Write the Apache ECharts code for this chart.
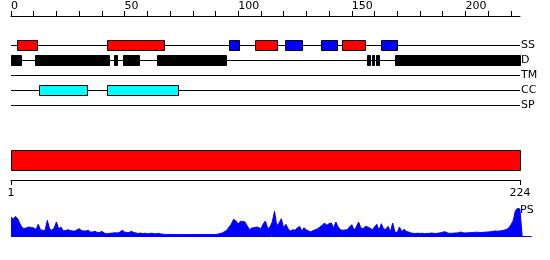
<!DOCTYPE html>
<html>
<head>
<meta charset="utf-8">
<script src="https://cdn.jsdelivr.net/npm/echarts@6/dist/echarts.min.js"></script>
<style>html,body{margin:0;padding:0;background:#fff}#c{width:550px;height:260px}</style>
</head>
<body>
<div id="c"></div>
<script>
// ---- data ----
const seqLength = 224;
const topTickValues = [0,10,20,30,40,50,60,70,80,90,100,110,120,130,140,150,160,170,180,190,200,210,220];
const topLabelValues = [0,50,100,150,200];
const rangeLabels = [1,224];
const tracks = ['SS','D','TM','CC','SP'];
const ssHelix = [[3,11.5],[42.5,67.5],[107.5,117.5],[146,156]];
const ssStrand = [[96,100.5],[121,128.5],[136.5,143.5],[163,170]];
const disorder = [[0,4.5],[11,43.5],[45.5,47],[49.5,56.5],[64.5,95],[157,158],[159,160],[161,162],[169,224]];
const coiledCoil = [[12.5,33.5],[42.5,73.5]];
const domain = [[0,224]];
const profile = [
19,17,19.5,17,12,8,7.5,8.3,9,8.5,
8,6.5,11.7,6,5.7,5.5,15.7,7,5.7,8,
14,7,9,5,5.5,6.3,5.5,5,5,6,
7.3,5.5,5,5,5.7,4,4,4.7,3.5,3.5,
4.7,3,2.3,2.5,2.8,3,3.3,3,4,5.7,
4,3.3,3.5,4.7,3.5,3,2.5,3,2.3,2.8,
2.3,2.5,2.8,2.2,2.3,2.6,2,1.8,1.6,1.5,
1.5,1.6,1.5,1.5,1.5,1.6,1.5,1.5,1.5,1.5,
1.6,1.5,1.5,1.5,1.5,1.5,1.6,1.5,1.5,1.5,
1.6,1.8,2.5,3,4.5,5.7,9,12,16.7,15,
12,14.7,14.5,14,10,6.3,8,8.3,9,8.5,
7.3,12,15,7.3,9,14,24.7,10,13,17.3,
8,11.7,7,5,6.3,5.7,8,9.7,5,8.3,
6,5,4,5.5,6.3,7.3,9,10.7,13,10.7,
12.3,13,8,14,9,6.3,5.7,6,6.3,9,
11.3,5.7,9,14,8,7.3,9.7,9,8,6.3,
9,11.7,5.7,12.3,7,6.7,9.7,4,13,4,
3.3,9,4.3,6.7,4.5,4,3,2.7,2.5,2.8,
2.5,2.7,2.4,2.6,2.5,3,2.7,2.5,2.8,3.2,
3.8,4.3,3.2,2.6,2.7,2.9,3,3.3,4,3.2,
3,3.2,3.3,3.4,3.6,3.8,3.6,3.5,3.7,3.9,
4,4.3,4.6,5,4.8,5,5.3,5.7,6.5,7.7,
11,15,25,27.7,27,0
];

// ---- chart ----
const FONT = 'DejaVu Sans';
const chart = echarts.init(document.getElementById('c'), null, {renderer:'canvas'});

function crisp(v) { return Math.round(v - 0.5) + 0.5; }

function boxSeries(name, ranges, trackIdx, color, h) {
  return {
    name: name, type: 'custom', xAxisIndex: 1, yAxisIndex: 1,
    data: ranges.map(r => [r[0], r[1], trackIdx]),
    renderItem: function (params, api) {
      const p0 = api.coord([api.value(0), api.value(2)]);
      const p1 = api.coord([api.value(1), api.value(2)]);
      const x0 = crisp(p0[0]), x1 = crisp(p1[0]);
      const y0 = crisp(p0[1] - h / 2);
      return {type:'rect', shape:{x:x0, y:y0, width:Math.max(1, x1-x0), height:h},
              style:{fill:color, stroke:'#000', lineWidth:1}};
    }
  };
}

const option = {
  animation: false,
  backgroundColor: '#fff',
  textStyle: {fontFamily: FONT},
  title: {text:'PS', left:520, top:205, padding:0,
          textStyle:{fontFamily:FONT, fontSize:11, fontWeight:'normal', color:'#000'}},
  grid: [
    {left:11, right:30, top:15, height:1},
    {left:11, right:30, top:45, height:60},
    {left:11, right:30, top:150, height:20},
    {left:11, right:30, top:179, height:1},
    {left:11, right:18.3, top:206, bottom:24}
  ],
  xAxis: [
    {gridIndex:0, type:'value', min:0, max:seqLength, position:'top',
     axisLine:{show:true, lineStyle:{color:'#000', width:1}},
     axisTick:{show:true, length:5, customValues:topTickValues, lineStyle:{color:'#000'}},
     axisLabel:{show:true, customValues:topLabelValues, align:'left', margin:3,
                fontSize:11, color:'#000', fontFamily:FONT},
     splitLine:{show:false}},
    {gridIndex:1, type:'value', min:0, max:seqLength, show:false},
    {gridIndex:2, type:'value', min:0, max:seqLength, show:false},
    {gridIndex:3, type:'value', min:rangeLabels[0], max:rangeLabels[1], position:'bottom',
     axisLine:{show:true, lineStyle:{color:'#000', width:1}},
     axisTick:{show:true, length:5, customValues:rangeLabels, lineStyle:{color:'#000'}},
     axisLabel:{show:true, customValues:rangeLabels, margin:8, fontSize:11, color:'#000', fontFamily:FONT},
     splitLine:{show:false}},
    {gridIndex:4, type:'value', min:0, max:229.2, show:false}
  ],
  yAxis: [
    {gridIndex:0, type:'value', show:false},
    {gridIndex:1, type:'category', data:tracks, inverse:true, boundaryGap:false, position:'right',
     axisLine:{show:false}, axisTick:{show:false},
     axisLabel:{show:true, margin:1, fontSize:11, color:'#000', fontFamily:FONT},
     splitLine:{show:true, lineStyle:{color:'#000', width:1}}},
    {gridIndex:2, type:'value', min:0, max:1, show:false},
    {gridIndex:3, type:'value', show:false},
    {gridIndex:4, type:'value', min:0, max:30, show:false}
  ],
  series: [
    boxSeries('helix', ssHelix, 0, '#ff0000', 10),
    boxSeries('strand', ssStrand, 0, '#0000ff', 10),
    boxSeries('disorder', disorder, 1, '#000000', 10),
    boxSeries('coiled coil', coiledCoil, 3, '#00ffff', 10),
    {
      name:'domain', type:'custom', xAxisIndex:2, yAxisIndex:2,
      data: domain.map(d => [d[0], d[1]]),
      renderItem: function (params, api) {
        const p0 = api.coord([api.value(0), 1]);
        const p1 = api.coord([api.value(1), 0]);
        const x0 = crisp(p0[0]), x1 = crisp(p1[0]);
        const y0 = crisp(p0[1]), y1 = crisp(p1[1]);
        return {type:'rect', shape:{x:x0, y:y0, width:x1-x0, height:y1-y0},
                style:{fill:'#ff0000', stroke:'#000', lineWidth:1}};
      }
    },
    {
      name:'PS', type:'line', xAxisIndex:4, yAxisIndex:4,
      data: profile.map((v, i) => [i, v]),
      symbol:'none', smooth:false,
      lineStyle:{color:'#0000ff', width:1},
      areaStyle:{color:'#0000ff', opacity:1},
      markLine:{silent:true, symbol:'none', label:{show:false},
                lineStyle:{color:'#0000ff', width:1, type:'solid'},
                data:[{yAxis:0}]}
    }
  ]
};
chart.setOption(option);
</script>
</body>
</html>
